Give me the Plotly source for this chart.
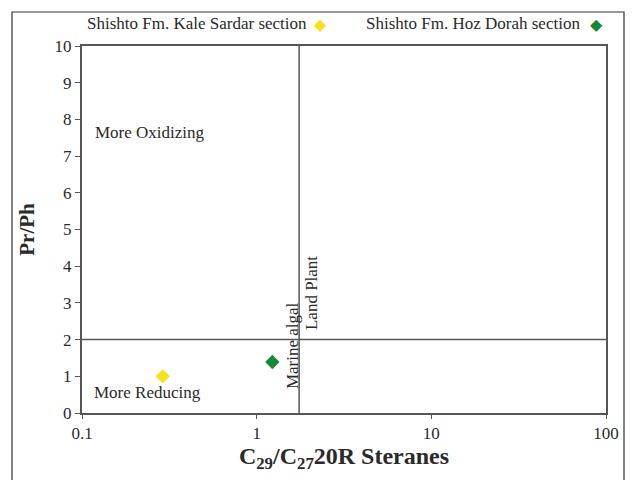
import plotly.graph_objects as go

# Sample data: C29/C27 20R sterane ratio vs. pristane/phytane
sections = ["Shishto Fm. Kale Sardar section", "Shishto Fm. Hoz Dorah section"]
sterane_ratio = [0.29, 1.23]
pr_ph = [1.0, 1.39]
colors = ["#f5e21c", "#16883a"]

# Boundary lines of the interpretation diagram
pr_ph_boundary = 2.0
sterane_boundary = 1.75

x_ticks = [0.1, 1, 10, 100]
x_tick_labels = ["0.1", "1", "10", "100"]
y_ticks = list(range(0, 11))

serif = "Liberation Serif"
axis_col = "#555555"
text_col = "#2a2a2a"

# plot-area geometry in pixels (used to place paper-referenced decorations)
L, R, T, B = 82, 32, 46, 67
PW, PH = 638 - L - R, 480 - T - B


def px_x(p):
    return (p - L) / PW


def px_y(p):
    return (480 - B - p) / PH


fig = go.Figure()
for name, xv, yv, c in zip(sections, sterane_ratio, pr_ph, colors):
    fig.add_trace(go.Scatter(
        x=[xv], y=[yv], mode="markers", name=name, showlegend=False,
        marker=dict(symbol="diamond", size=11, color=c, line=dict(width=0)),
    ))

# Horizontal Pr/Ph = 2 divider and vertical sterane divider
fig.add_shape(type="line", xref="paper", x0=0, x1=1, yref="y",
              y0=pr_ph_boundary, y1=pr_ph_boundary,
              line=dict(color=axis_col, width=1.5))
fig.add_shape(type="line", xref="x", x0=sterane_boundary, x1=sterane_boundary,
              yref="paper", y0=0, y1=1, line=dict(color=axis_col, width=1.5))

# Outer frame around the figure
fig.add_shape(type="rect", xref="paper", yref="paper",
              x0=px_x(12), x1=px_x(624), y0=px_y(490), y1=px_y(12),
              line=dict(color="#333333", width=1.2), layer="below")

notes = [
    dict(x=-0.937, y=7.63, text="More Oxidizing", textangle=0, xanchor="left"),
    dict(x=-0.943, y=0.57, text="More Reducing", textangle=0, xanchor="left"),
    dict(x=0.202, y=1.85, text="Marine algal", textangle=-90, xanchor="center"),
    dict(x=0.317, y=3.27, text="Land Plant", textangle=-90, xanchor="center"),
]
for n in notes:
    fig.add_annotation(x=n["x"], y=n["y"], xref="x", yref="y", text=n["text"],
                       textangle=n["textangle"], xanchor=n["xanchor"], showarrow=False,
                       font=dict(family=serif, size=17, color=text_col))

# Legend row at the top, marker after the label
legend_text_right = [309, 582]
legend_marker_x = [320, 596]
for name, c, tx, mx in zip(sections, colors, legend_text_right, legend_marker_x):
    fig.add_annotation(
        xref="paper", yref="paper", x=px_x(tx), y=px_y(23), xanchor="right", yanchor="middle",
        text=name, showarrow=False,
        font=dict(family=serif, size=17, color=text_col))
    fig.add_annotation(
        xref="paper", yref="paper", x=px_x(mx), y=px_y(24), xanchor="center", yanchor="middle",
        text="◆", showarrow=False,
        font=dict(family="DejaVu Sans", size=16, color=c))

fig.update_layout(
    width=638, height=480,
    margin=dict(l=L, r=R, t=T, b=B),
    paper_bgcolor="white", plot_bgcolor="white",
    font=dict(family=serif, color=text_col),
    xaxis=dict(
        type="log", range=[-1, 2], tickvals=x_ticks, ticktext=x_tick_labels,
        showgrid=False, zeroline=False, showline=True, linecolor=axis_col, linewidth=2,
        mirror=True, ticks="outside", ticklen=4, tickcolor=axis_col,
        tickfont=dict(family=serif, size=17),
        title=dict(text="<b>C<sub>29</sub>/C<sub>27</sub>20R Steranes</b>",
                   font=dict(family=serif, size=24), standoff=4),
    ),
    yaxis=dict(
        range=[0, 10], tickvals=y_ticks,
        showgrid=False, zeroline=False, showline=True, linecolor=axis_col, linewidth=2,
        mirror=True, ticks="outside", ticklen=5, tickcolor=axis_col,
        tickfont=dict(family=serif, size=17),
        title=dict(text="<b>Pr/Ph</b>", font=dict(family=serif, size=21), standoff=14),
    ),
)

fig.write_html("out.html")
